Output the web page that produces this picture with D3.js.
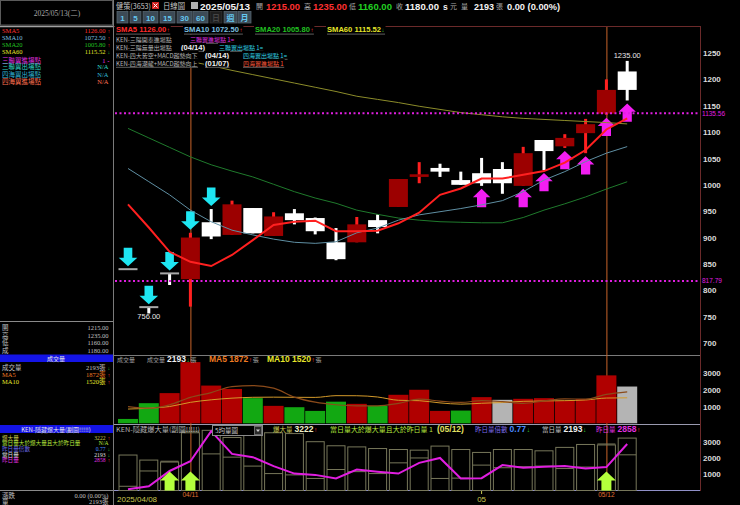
<!DOCTYPE html>
<html><head><meta charset="utf-8">
<script src="https://cdn.jsdelivr.net/npm/d3@7/dist/d3.min.js"></script>
<style>
html,body{margin:0;padding:0;background:#000;overflow:hidden;}
svg{display:block;}
</style></head><body>
<svg id="chart" width="740" height="505"></svg>
<script>
// ---------------- DATA ----------------
const dates = ["04/08","04/09","04/10","04/11","04/14","04/15","04/16","04/17","04/18","04/21","04/22","04/23","04/24","04/25","04/28","04/29","04/30","05/02","05/05","05/06","05/07","05/08","05/09","05/12","05/13"];
const opens  = [840,768,832,821,929,905,956,903,946,937,891,891,933,958,1015,1032,1009,1022,1030,998,1085,1073,1098,1135,1215];
const highs  = [840,768,832,909,954,970,956,948,954,938,918,939,944,1011,1043,1040,1025,1051,1043,1072,1085,1096,1125,1200,1235];
const lows   = [840,756,810,769,897,905,908,903,925,906,857,891,908,958,1003,1015,1000,998,983,998,1028,1070,1060,1133,1160];
const closes = [840,768,832,900,902,963,908,940,933,912,859,925,920,1011,1020,1025,1000,1003,1003,1060,1064,1089,1115,1180,1180];
const sma5  = [963,919,873,854,846,867,895,924,930,932,912,912,913,927,947,981,993,1012,1012,1019,1026,1042,1066,1105,1126.00];
const sma10 = [1031,1006,981,952,930,914,905,897,891,889,892,909,918,933,943,949,955,962,970,987,1009,1025,1044,1060,1072.50];
const sma20 = [1107,1089,1071,1053,1038,1026,1015,1001,987,975,965,952,944,937,933,930,929,928,928,938,952,964,977,992,1005.80];
const sma60 = [1258,1250,1242,1234,1226,1217,1209,1201,1193,1185,1177,1168,1162,1156,1149,1143,1137,1133,1129,1126,1124,1122,1120,1118,1115.52];
const volumes = [260,1200,1800,3650,2250,2050,1500,1040,960,740,1290,1160,1040,1700,2000,740,760,1560,1400,1460,1500,1350,1440,2858,2193];
const volTrend = ["down","down","up","up","up","up","down","up","down","down","down","up","down","up","up","up","down","up","flat","up","up","up","up","up","flat"];
const volMa5  = [1000,900,1100,1550,1832,2190,2250,2098,1560,1258,1106,1038,1038,1186,1438,1328,1248,1352,1292,1184,1336,1454,1442,1722,1872];
const volMa10 = [850,900,1000,1250,1400,1500,1550,1560,1550,1545,1648,1644,1568,1373,1348,1217,1143,1195,1239,1311,1332,1351,1391,1507,1520];
const burstLevel = [2180,1870,1750,3550,3700,3260,3460,3550,3500,3000,2750,2680,2580,2520,2480,2730,2520,2340,2520,2520,2440,2650,2830,2800,3222];
const prevVolume = [80,260,1200,1800,3650,2250,2050,1500,1040,960,740,1290,1160,1040,1700,2000,740,760,1560,1400,1460,1500,1350,1440,2858];
const priceTicks = [700,750,800,850,900,950,1000,1050,1100,1150,1200,1250];
const volumeTicks = [1000,2000,3000];
const refLevels = [1135.56, 817.79];
const sellSignals = [0,1,2,3,4];
const buySignals = [17,19,20,21,22,23,24];
const burstSignals = [2,3,23];
const cursorIdx = [3,23];
const monthIdx = [17];
const firstDateLabel = "2025/04/08";
const quote = {date:"2025/05/13", open:"1215.00", high:"1235.00", low:"1160.00", close:"1180.00", vol:"2193", chg:"0.00 (0.00%)"};

// ---------------- SETUP ----------------
const svg = d3.select("#chart");
const FONT = '"Liberation Sans","DejaVu Sans","Noto Sans CJK TC",sans-serif';
const CJK = '"Noto Sans CJK TC","Liberation Sans","DejaVu Sans",sans-serif';
const SERIF = '"Liberation Serif","Noto Sans CJK TC","DejaVu Sans",serif';
svg.append("rect").attr("width",740).attr("height",505).attr("fill","#000");

const x  = d3.scaleLinear().domain([0, dates.length-1]).range([128, 627.2]);
const yP = d3.scaleLinear().domain([700,1250]).range([343,53]);
const yV = d3.scaleLinear().domain([0,3000]).range([423.3,373]);
const yB = d3.scaleLinear().domain([0,3000]).range([490.5,441.7]);

function label(g, xx, y, parts, o={}) {
  const t = g.append("text").attr("x",xx).attr("y",y)
    .attr("font-size", o.size||8).attr("text-anchor", o.anchor||"start")
    .attr("font-family", o.family||FONT);
  if (o.len) t.attr("textLength", o.len).attr("lengthAdjust","spacingAndGlyphs");
  parts.forEach(p=>{
    const s = t.append("tspan").text(p[0]).attr("fill", p[1]||"#ccc");
    if (p[2]) s.attr("font-weight", p[2]);
    if (p[3]) s.attr("font-size", p[3]);
    if (p[4]) s.attr("font-family", p[4]);
  });
  return t;
}
function seq(g, xx, y, items, gap=0.6) {
  let cx = xx;
  items.forEach(it=>{
    const t = label(g, cx, y, [[it.t, it.c, it.w]], {size: it.s||8, family: it.f||FONT});
    cx += t.node().getComputedTextLength() + (it.gap!=null?it.gap:gap);
  });
  return cx;
}

const defs = svg.append("defs");
defs.append("clipPath").attr("id","clipP").append("rect").attr("x",115).attr("y",27).attr("width",585).attr("height",327);
defs.append("clipPath").attr("id","clipV").append("rect").attr("x",115).attr("y",357).attr("width",585).attr("height",67);
defs.append("clipPath").attr("id","clipB").append("rect").attr("x",115).attr("y",425).attr("width",585).attr("height",66);

// ---------------- FRAMES ----------------
const F = svg.append("g");
F.append("line").attr("x1",113.5).attr("x2",113.5).attr("y1",0).attr("y2",505).attr("stroke","#7a7a7a");
F.append("line").attr("x1",114).attr("x2",700).attr("y1",26.5).attr("y2",26.5).attr("stroke","#6b2a2a");
F.append("line").attr("x1",700.5).attr("x2",700.5).attr("y1",26).attr("y2",491).attr("stroke","#6b2a2a");
F.append("line").attr("x1",114).attr("x2",700).attr("y1",355.5).attr("y2",355.5).attr("stroke","#7a7a7a");
F.append("line").attr("x1",114).attr("x2",700).attr("y1",424.5).attr("y2",424.5).attr("stroke","#9a9ab0");
F.append("line").attr("x1",114).attr("x2",700).attr("y1",490.5).attr("y2",490.5).attr("stroke","#9090c8");

const gCur = svg.append("g");
gCur.selectAll("line").data(cursorIdx).join("line")
  .attr("x1",d=>x(d)+0.5).attr("x2",d=>x(d)+0.5).attr("y1",27).attr("y2",490)
  .attr("stroke","#c8642a").attr("stroke-width",1);

// ---------------- PRICE PANE ----------------
const gP = svg.append("g").attr("clip-path","url(#clipP)");
const candles = dates.map((d,i)=>({i,o:opens[i],h:highs[i],l:lows[i],c:closes[i]}));
gP.selectAll("rect.wick").data(candles).join("rect").attr("class","wick")
  .attr("x",d=>x(d.i)-1.5).attr("width",3)
  .attr("y",d=>yP(d.h)).attr("height",d=>Math.max(0,yP(d.l)-yP(d.h)))
  .attr("fill",d=>d.c>d.o?"#ff2020":"#ffffff");
gP.selectAll("rect.body").data(candles).join("rect").attr("class","body")
  .attr("x",d=>x(d.i)-9.5).attr("width",19)
  .attr("y",d=>d.c===d.o? yP(d.c)-1 : yP(Math.max(d.o,d.c)))
  .attr("height",d=>d.c===d.o? 2 : Math.max(1.5,Math.abs(yP(d.o)-yP(d.c))))
  .attr("fill",d=>d.c>d.o?"#9c0000":(d.c<d.o?"#ffffff":"#a8a8a8"));

function downArrow(cx, by){ return `M${cx-4.3},${by-18.5}H${cx+4.3}V${by-8.5}H${cx+9.3}L${cx},${by}L${cx-9.3},${by-8.5}H${cx-4.3}Z`; }
function upArrow(cx, ty, hw, sw, hh, sh){ return `M${cx},${ty}L${cx+hw},${ty+hh}H${cx+sw}V${ty+hh+sh}H${cx-sw}V${ty+hh}H${cx-hw}Z`; }
gP.selectAll("path.sell").data(sellSignals).join("path").attr("class","sell")
  .attr("d",i=>downArrow(x(i), yP(highs[i])-3)).attr("fill","#1ee6f2");
gP.selectAll("path.buy").data(buySignals).join("path").attr("class","buy")
  .attr("d",i=>upArrow(x(i), yP(lows[i])+3, 8.7, 4.6, 8.3, 10)).attr("fill","#f21ef2");

const line = arr => d3.line().x((d,i)=>x(i)).y(d=>yP(d))(arr);
gP.append("path").attr("d",line(sma60)).attr("fill","none").attr("stroke","#8c8c2a").attr("stroke-width",1);
gP.append("path").attr("d",line(sma20)).attr("fill","none").attr("stroke","#1f7a2c").attr("stroke-width",1);
gP.append("path").attr("d",line(sma10)).attr("fill","none").attr("stroke","#5f8fa3").attr("stroke-width",1);
gP.append("path").attr("d",line(sma5)).attr("fill","none").attr("stroke","#ff2020").attr("stroke-width",2);

gP.selectAll("line.ref").data(refLevels).join("line").attr("class","ref")
  .attr("x1",115).attr("x2",700).attr("y1",d=>yP(d)).attr("y2",d=>yP(d))
  .attr("stroke","#e01ee0").attr("stroke-width",2).attr("stroke-dasharray","2,2.5");
svg.selectAll("text.reflab").data(refLevels).join("text").attr("class","reflab")
  .attr("x",702).attr("y",d=>yP(d)+2.2).attr("font-size",6.5).attr("font-family",FONT)
  .attr("fill","#e01ee0").text(d=>d.toFixed(2));

const hiIdx = highs.indexOf(d3.max(highs)), loIdx = lows.indexOf(d3.min(lows));
gP.append("text").attr("x",x(hiIdx)).attr("y",yP(highs[hiIdx])-2.5).attr("text-anchor","middle")
  .attr("font-size",7.5).attr("font-family",FONT).attr("fill","#e8e8e8").text(highs[hiIdx].toFixed(2));
gP.append("text").attr("x",x(loIdx)).attr("y",yP(lows[loIdx])+5.5).attr("text-anchor","middle")
  .attr("font-size",7.5).attr("font-family",FONT).attr("fill","#e8e8e8").text(lows[loIdx].toFixed(2));

const axP = svg.append("g").attr("transform","translate(700,0)")
  .call(d3.axisRight(yP).tickValues(priceTicks).tickSize(0).tickPadding(3).tickFormat(d3.format("d")));
axP.select(".domain").remove();
axP.selectAll("text").attr("font-size",8).attr("font-weight","bold").attr("font-family",FONT).attr("fill","#dcdcdc");

// legend rows
const gL = svg.append("g");
function legendItem(xx, y, items) {
  const gi = gL.append("g");
  const end = seq(gi, xx, y, items, 0.5);
  gi.insert("rect", ":first-child").attr("x",xx-1).attr("y",y-6.5).attr("width",end-xx+1.5).attr("height",8.5).attr("fill","#000");
  gi.append("line").attr("x1",xx).attr("x2",end).attr("y1",y+1.8).attr("y2",y+1.8).attr("stroke","#5e5e5e");
}
legendItem(116,32.3,[{t:"SMA5 "+sma5[24].toFixed(2),c:"#ff2a2a",w:"bold",s:7.6},{t:"↑",c:"#ff2a2a",w:"bold",s:6}]);
legendItem(184,32.3,[{t:"SMA10 "+sma10[24].toFixed(2),c:"#7ec0e0",w:"bold",s:7.6},{t:"↑",c:"#ff2a2a",w:"bold",s:6}]);
legendItem(255,32.3,[{t:"SMA20 "+sma20[24].toFixed(2),c:"#22c022",w:"bold",s:7.6},{t:"↑",c:"#ff2a2a",w:"bold",s:6}]);
legendItem(327,32.3,[{t:"SMA60 "+sma60[24].toFixed(2),c:"#e6e62a",w:"bold",s:7.6},{t:"↓",c:"#30d030",w:"bold",s:6}]);
legendItem(116,41.5,[{t:"KEN-三陽開泰進場點",c:"#b4b4b4",s:6,f:CJK}]);
legendItem(190,41.5,[{t:"三聯翼進場點 1=",c:"#e030e0",s:6,f:CJK}]);
legendItem(116,49.5,[{t:"KEN-三陽無量出場點",c:"#b4b4b4",s:6,f:CJK}]);
legendItem(181,49.5,[{t:"(04/14)",c:"#f0f0f0",w:"bold",s:7.6}]);
legendItem(219,49.5,[{t:"三聯翼出場點 1=",c:"#30d8e8",s:6,f:CJK}]);
legendItem(116,57.5,[{t:"KEN-四大皆空+MACD趨勢向下",c:"#b4b4b4",s:6,f:CJK}]);
legendItem(205,57.5,[{t:"(04/14)",c:"#f0f0f0",w:"bold",s:7.6}]);
legendItem(243,57.5,[{t:"四海翼出場點 1=",c:"#30d8e8",s:6,f:CJK}]);
legendItem(116,65.5,[{t:"KEN-四海潮龍+MACD趨勢向上",c:"#b4b4b4",s:6,f:CJK}]);
legendItem(205,65.5,[{t:"(01/07)",c:"#f0f0f0",w:"bold",s:7.6}]);
legendItem(243,65.5,[{t:"四海翼進場點 1",c:"#ff5a3c",s:6,f:CJK}]);

// ---------------- VOLUME PANE ----------------
const gV = svg.append("g").attr("clip-path","url(#clipV)");
const volColor = {up:"#b00000", down:"#12a812", flat:"#b4b4b4"};
gV.selectAll("rect.vol").data(volumes).join("rect").attr("class","vol")
  .attr("x",(d,i)=>x(i)-10).attr("width",20)
  .attr("y",d=>yV(d)).attr("height",d=>yV(0)-yV(d))
  .attr("fill",(d,i)=>volColor[volTrend[i]]);
const vline = arr => d3.line().x((d,i)=>x(i)).y(d=>yV(d)).curve(d3.curveMonotoneX)(arr);
gV.append("path").attr("d",vline(volMa10)).attr("fill","none").attr("stroke","#d49a2a").attr("stroke-width",1);
gV.append("path").attr("d",vline(volMa5)).attr("fill","none").attr("stroke","#8a4a1a").attr("stroke-width",1.2);

const axV = svg.append("g").attr("transform","translate(700,0)")
  .call(d3.axisRight(yV).tickValues(volumeTicks).tickSize(0).tickPadding(3).tickFormat(d3.format("d")));
axV.select(".domain").remove();
axV.selectAll("text").attr("font-size",8).attr("font-weight","bold").attr("font-family",FONT).attr("fill","#dcdcdc");

const gVL = svg.append("g");
label(gVL,117,362,[["成交量","#a0a0a0"]],{size:6,family:CJK});
seq(gVL,147,362,[{t:"成交量",c:"#a0a0a0",s:6,f:CJK,gap:2},{t:String(volumes[24]),c:"#f0f0f0",w:"bold",s:8.5},{t:"↓",c:"#30d030",w:"bold",s:6.5},{t:"張",c:"#a0a0a0",s:6,f:CJK}]);
seq(gVL,209,362,[{t:"MA5 "+volMa5[24],c:"#ee7a22",w:"bold",s:8.5},{t:"↑",c:"#ff3030",w:"bold",s:6.5},{t:"張",c:"#a0a0a0",s:6,f:CJK}]);
seq(gVL,267,362,[{t:"MA10 "+volMa10[24],c:"#e6e62a",w:"bold",s:8.5},{t:"↑",c:"#ff3030",w:"bold",s:6.5},{t:"張",c:"#a0a0a0",s:6,f:CJK}]);

// ---------------- BURST VOLUME PANE ----------------
const gB = svg.append("g").attr("clip-path","url(#clipB)");
gB.selectAll("rect.box").data(burstLevel).join("rect").attr("class","box")
  .attr("x",(d,i)=>x(i)-9).attr("width",18)
  .attr("y",d=>yB(d)).attr("height",d=>yB(0)-yB(d))
  .attr("fill","none").attr("stroke","#77775a").attr("stroke-width",1);
gB.selectAll("line.cur").data(volumes).join("line").attr("class","cur")
  .attr("x1",(d,i)=>x(i)-9).attr("x2",(d,i)=>x(i)+9)
  .attr("y1",d=>yB(d)).attr("y2",d=>yB(d))
  .attr("stroke","#77775a").attr("stroke-width",1);
gB.append("path").attr("d",d3.line().x((d,i)=>x(i)).y(d=>yB(d))(prevVolume))
  .attr("fill","none").attr("stroke","#e01ee0").attr("stroke-width",2);
gB.selectAll("path.burst").data(burstSignals).join("path").attr("class","burst")
  .attr("d",i=>upArrow(x(i), 471.5, 9.5, 5, 9, 10)).attr("fill","#b4ff3c");

const axB = svg.append("g").attr("transform","translate(700,0)")
  .call(d3.axisRight(yB).tickValues(volumeTicks).tickSize(0).tickPadding(3).tickFormat(d3.format("d")));
axB.select(".domain").remove();
axB.selectAll("text").attr("font-size",8).attr("font-weight","bold").attr("font-family",FONT).attr("fill","#dcdcdc");

const gBL = svg.append("g");
label(gBL,116,432,[["KEN-隱藏爆大量(副圖!!!!!)","#b4b4b4"]],{size:6.5,family:CJK,len:84});
gBL.append("rect").attr("x",212.5).attr("y",425.5).attr("width",50).attr("height",10).attr("fill","#000").attr("stroke","#8a8a8a");
gBL.append("rect").attr("x",254.5).attr("y",426.5).attr("width",7).attr("height",8).attr("fill","#2a2a2a").attr("stroke","#6a6a6a");
label(gBL,215,433,[["5均量圖","#c8c8c8"]],{size:6.5,family:CJK});
gBL.append("path").attr("d","M256,429.5H260L258,432Z").attr("fill","#d0d0d0");
seq(gBL,273,432,[{t:"爆大量",c:"#c8c850",s:6.5,f:CJK,gap:2},{t:String(burstLevel[24]),c:"#f0f0c8",w:"bold",s:8.5},{t:"↑",c:"#ff3030",w:"bold",s:6.5}]);
label(gBL,330,432,[["當日量大於爆大量且大於昨日量 1","#b4e63c"]],{size:6.5,family:CJK,len:103});
label(gBL,437,432,[["(05/12)","#e0e060","bold"]],{size:8.5});
seq(gBL,475,432,[{t:"昨日量倍數",c:"#7a6ae6",s:6.5,f:CJK,gap:2},{t:"0.77",c:"#4a8aff",w:"bold",s:8.5},{t:"↓",c:"#30d030",w:"bold",s:6.5}]);
seq(gBL,542,432,[{t:"當日量",c:"#c0c0c0",s:6.5,f:CJK,gap:2},{t:String(volumes[24]),c:"#f0f0f0",w:"bold",s:8.5},{t:"↓",c:"#30d030",w:"bold",s:6.5}]);
seq(gBL,596,432,[{t:"昨日量",c:"#e030e0",s:6.5,f:CJK,gap:2},{t:String(prevVolume[24]),c:"#e030e0",w:"bold",s:8.5},{t:"↑",c:"#ff3030",w:"bold",s:6.5}]);

// date axis labels
const gD = svg.append("g");
gD.append("text").attr("x",117).attr("y",502).attr("font-size",8).attr("font-family",FONT).attr("fill","#c8c850").text(firstDateLabel);
gD.selectAll("text.cd").data(cursorIdx).join("text").attr("class","cd")
  .attr("x",d=>x(d)).attr("y",496.5).attr("text-anchor","middle").attr("font-size",6.5).attr("font-family",FONT)
  .attr("fill","#e07030").text(d=>dates[d]);
gD.selectAll("line.mt").data(monthIdx).join("line").attr("class","mt")
  .attr("x1",d=>x(d)).attr("x2",d=>x(d)).attr("y1",491).attr("y2",494).attr("stroke","#c8c850");
gD.selectAll("text.mt").data(monthIdx).join("text").attr("class","mt")
  .attr("x",d=>x(d)).attr("y",502).attr("text-anchor","middle").attr("font-size",8).attr("font-family",FONT)
  .attr("fill","#c8c850").text(d=>dates[d].slice(0,2));

// ---------------- HEADER ----------------
const gH = svg.append("g");
label(gH,116,9,[["健策(3653)","#c8c8c8"]],{size:7.5,family:CJK,len:35});
gH.append("rect").attr("x",152).attr("y",2).attr("width",7).attr("height",7).attr("fill","#d02020");
gH.append("path").attr("d","M153.5,3.5L157.5,7.5M157.5,3.5L153.5,7.5").attr("stroke","#fff").attr("stroke-width",1);
label(gH,163,9,[["日線圖","#c8c8c8"]],{size:7.5,family:CJK,len:22});
gH.append("rect").attr("x",191).attr("y",2).attr("width",7).attr("height",7).attr("fill","#b0b0b0");
label(gH,200,9.5,[[quote.date,"#f4f4f4","bold"]],{size:9.5,len:50});
const hdr = [["開",256,quote.open,266,"#ff3030"],["高",304,quote.high,313,"#ff3030"],["低",349,quote.low,358,"#22d022"],["收",396,quote.close,405,"#f4f4f4"]];
hdr.forEach(h=>{
  label(gH,h[1],9,[[h[0],"#a8a8a8"]],{size:7,family:CJK});
  label(gH,h[3],9.5,[[h[2],h[4],"bold"]],{size:9.5,len:34});
});
label(gH,443,9.5,[["s","#f4f4f4","bold"]],{size:8.5});
label(gH,450,9,[["元","#a8a8a8"]],{size:7,family:CJK});
label(gH,461,9,[["量","#a8a8a8"]],{size:7,family:CJK});
label(gH,474,9.5,[[quote.vol,"#f4f4f4","bold"]],{size:9.5,len:20});
label(gH,496,9,[["張","#a8a8a8"]],{size:7,family:CJK});
label(gH,507,9.5,[[quote.chg,"#f4f4f4","bold"]],{size:9.5,len:53});

const buttons = [["1",117,11],["5",130,11],["10",143,15],["15",160,15],["30",177,15],["60",193,15],["日",210,12],["週",224,13],["月",238,13]];
buttons.forEach(b=>{
  const sel = b[0]==="日";
  gH.append("rect").attr("x",b[1]).attr("y",11.5).attr("width",b[2]).attr("height",11.5)
    .attr("fill", sel?"#1e1e1e":"#3c4a56").attr("stroke", sel?"#333":"#56646e").attr("stroke-width",0.8);
  label(gH,b[1]+b[2]/2,20.5,[[b[0], sel?"#444":"#64c8f0","bold"]],{size:8,anchor:"middle",family:/[0-9]/.test(b[0])?FONT:CJK});
});

// ---------------- LEFT PANEL ----------------
const gLP = svg.append("g");
gLP.append("rect").attr("x",0.5).attr("y",0.5).attr("width",112).attr("height",24.5).attr("fill","none").attr("stroke","#5a5a5a");
label(gLP,57,16,[["2025/05/13(二)","#a8a8a8"]],{size:7.5,anchor:"middle",family:SERIF});
gLP.append("line").attr("x1",0).attr("x2",113).attr("y1",26.5).attr("y2",26.5).attr("stroke","#a0a0a0").attr("stroke-width",1.5);
function leftRow(y, lab, lc, val, vc, arr, ac, size=6.5) {
  label(gLP,2,y,[[lab,lc]],{size,family:SERIF});
  label(gLP, arr?105.5:108.5, y,[[val,vc]],{size,family:SERIF,anchor:"end"});
  if (arr) label(gLP,107.5,y,[[arr,ac,"bold"]],{size:5.5});
}
leftRow(32.5,"SMA5","#ff3030",sma5[24].toFixed(2),"#ff3030","↑","#ff3030");
leftRow(39.8,"SMA10","#7ec0e0",sma10[24].toFixed(2),"#7ec0e0","↑","#ff3030");
leftRow(47,"SMA20","#22c022",sma20[24].toFixed(2),"#22c022","↑","#ff3030");
leftRow(54.3,"SMA60","#e6e62a",sma60[24].toFixed(2),"#e6e62a","↓","#30d030");
leftRow(62.5,"三聯翼進場點","#e030e0","1","#e030e0","-","#e030e0");
leftRow(69.3,"三聯翼出場點","#30d8c8","N/A","#30d8c8");
leftRow(76.5,"四海翼出場點","#30b8d8","N/A","#30b8d8");
leftRow(83.5,"四海翼進場點","#ff7050","N/A","#ff7050");

gLP.append("line").attr("x1",0).attr("x2",113).attr("y1",321.5).attr("y2",321.5).attr("stroke","#8a8a8a");
leftRow(330,"開","#c0c0c0",quote.open,"#c0c0c0");
leftRow(337.7,"高","#c0c0c0",quote.high,"#c0c0c0");
leftRow(345.3,"低","#c0c0c0",quote.low,"#c0c0c0");
leftRow(353,"成","#c0c0c0",quote.close,"#c0c0c0");
gLP.append("rect").attr("x",0).attr("y",354.5).attr("width",113).attr("height",7.5).attr("fill","#1414e6");
label(gLP,56,360.5,[["成交量","#e8e8e8"]],{size:6,anchor:"middle",family:CJK});
leftRow(370,"成交量","#c0c0c0",volumes[24]+"張","#c0c0c0","↓","#30d030");
leftRow(377,"MA5","#ee7a22",volMa5[24]+"張","#ee7a22","↑","#ff3030");
leftRow(384.3,"MA10","#e6e62a",volMa10[24]+"張","#e6e62a","↑","#ff3030");

gLP.append("rect").attr("x",0).attr("y",425).attr("width",113).attr("height",8).attr("fill","#1414e6");
label(gLP,56,431.5,[["KEN-隱藏爆大量(副圖!!!!!)","#e8e8e8"]],{size:6,anchor:"middle",family:CJK});
leftRow(439.5,"爆大量","#c8c850",String(burstLevel[24]),"#c8c850","↑","#ff3030",5.6);
leftRow(445.2,"當日量大於爆大量且大於昨日量","#b4e63c","N/A","#b4e63c",null,null,5.6);
leftRow(450.9,"昨日量倍數","#6a6ae6","0.77","#4a8aff","↓","#30d030",5.6);
leftRow(456.6,"當日量","#e0e0e0",String(volumes[24]),"#e0e0e0","↓","#30d030",5.6);
leftRow(462.3,"昨日量","#e030e0",String(prevVolume[24]),"#e030e0","↑","#ff3030",5.6);

gLP.append("line").attr("x1",0).attr("x2",113).attr("y1",490.5).attr("y2",490.5).attr("stroke","#8a8a8a");
leftRow(497.5,"漲跌","#c0c0c0",quote.chg,"#c0c0c0");
leftRow(504,"量","#c0c0c0",quote.vol+"張","#c0c0c0");
</script>
</body></html>
